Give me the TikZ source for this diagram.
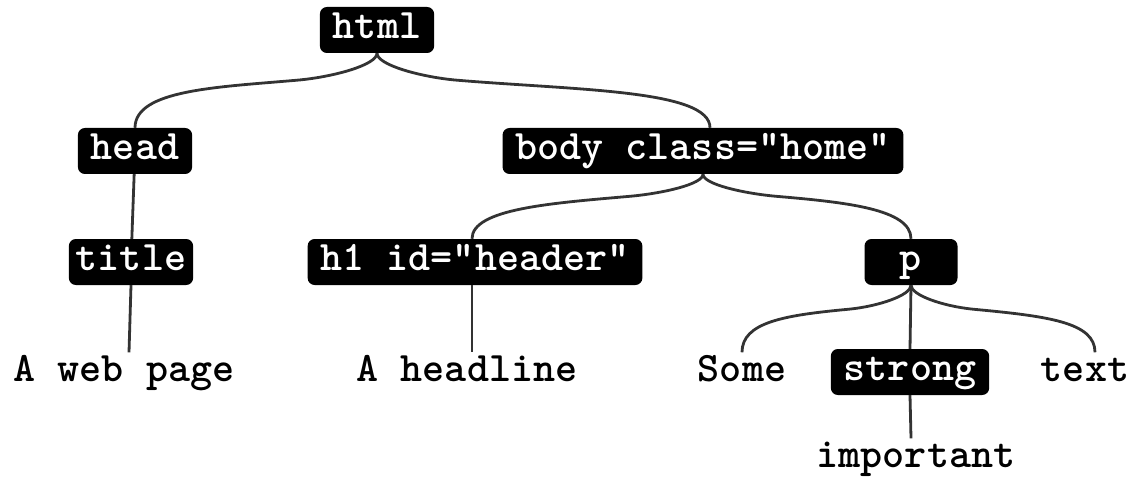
\documentclass[tikz,border=0pt]{standalone}
\usepackage{fontspec}
\begin{document}
\begin{tikzpicture}[x=1pt,y=-1pt,
  tag/.style={fill=black, text=white, rounded corners=7pt, font=\ttfamily\bfseries\fontsize{42}{46}\selectfont,
    minimum height=46pt, text height=24pt, text depth=7pt, inner xsep=13pt, inner ysep=0pt},
  leaf/.style={text=black, font=\ttfamily\bfseries\fontsize{42}{46}\selectfont,
    text height=24pt, text depth=7pt, inner xsep=0pt, inner ysep=5pt},
  link/.style={draw=black!80, line width=2.8pt}]
\useasboundingbox (0,0) rectangle (1131,478);
\node[tag] (html) at (377,30) {html};
\node[tag] (head) at (135,151) {head};
\node[tag] (body) at (703,151) {body class="home"};
\node[tag, inner xsep=7pt] (title) at (131,262) {title};
\node[tag] (h1) at (475,262) {h1 id="header"};
\node[tag, minimum width=93pt] (p) at (911,262) {p};
\node[tag] (strong) at (910,372) {strong};
\node[leaf] (web) at (124,373) {A web page};
\node[leaf] (hl) at (467,373) {A headline};
\node[leaf] (some) at (742,373) {Some};
\node[leaf] (text) at (1085,373) {text};
\node[leaf] (imp) at (916,459) {important};
% brace-like connectors
\draw[link] (html.south) .. controls +(0,12) and +(35,-3) .. ++(-80,27)
  .. controls +(-80,7) and +(0,-38) .. (head.north);
\draw[link] (html.south) .. controls +(0,12) and +(-35,-3) .. ++(80,27)
  .. controls +(120,10) and +(0,-38) .. ([xshift=7pt]body.north);
\draw[link] (head) -- (title);
\draw[link] (title.south) -- ([xshift=5pt]web.north);
\draw[link] (body.south) .. controls +(0,10) and +(32,-3) .. ++(-72,22)
  .. controls +(-80,7) and +(0,-30) .. ([xshift=-3pt]h1.north);
\draw[link] (body.south) .. controls +(0,10) and +(-32,-3) .. ++(72,22)
  .. controls +(70,6) and +(0,-30) .. (p.north);
\draw[link] ([xshift=-3pt]h1.south) -- ([xshift=5pt]hl.north);
\draw[link] (p.south) .. controls +(0,10) and +(30,-3) .. ++(-62,24)
  .. controls +(-65,6) and +(0,-30) .. (some.north);
\draw[link] (p.south) .. controls +(0,10) and +(-30,-3) .. ++(62,24)
  .. controls +(75,7) and +(0,-30) .. ([xshift=10pt]text.north);
\draw[link] (p.south) -- (strong.north);
\draw[link] (strong.south) -- ([xshift=-5pt]imp.north);
\end{tikzpicture}
\end{document}
